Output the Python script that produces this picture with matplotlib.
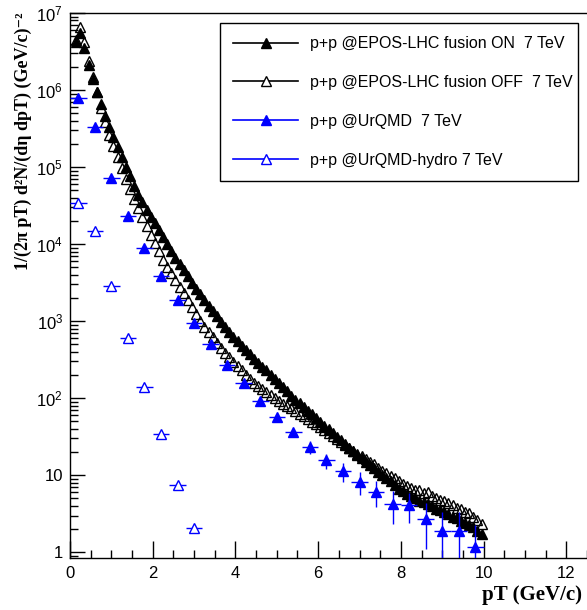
import numpy as np
import matplotlib
matplotlib.use("Agg")
import matplotlib.pyplot as plt
from matplotlib.ticker import LogLocator, FuncFormatter, MultipleLocator, NullFormatter, FixedLocator
from matplotlib.lines import Line2D

plt.rcParams['font.family'] = ['Liberation Sans', 'DejaVu Sans']
plt.rcParams['mathtext.fontset'] = 'custom'
plt.rcParams['mathtext.rm'] = 'Liberation Sans'
plt.rcParams['mathtext.it'] = 'Liberation Sans:italic'
plt.rcParams['mathtext.bf'] = 'Liberation Sans:bold'

# EPOS-LHC bins: 0.1 GeV/c wide, centres 0.15 ... 9.95
pt_epos = np.round(np.arange(0.15, 10.0, 0.1), 2)

# fusion ON (filled black)
epos_on = [4.2e6, 5.5e6, 3.5e6, 2.1e6, 1.4e6, 9.3e5, 6.5e5, 4.6e5, 3.3e5, 2.45e5,
           1.8e5, 1.35e5, 1.0e5, 7.6e4, 5.75e4, 4.4e4, 3.5e4, 2.75e4, 2.24e4, 1.86e4,
           1.51e4, 1.23e4, 1.0e4, 8.1e3, 6.6e3, 5.5e3, 4.6e3, 3.8e3, 3.16e3, 2.63e3,
           2.24e3, 1.86e3, 1.58e3, 1.35e3, 1.15e3, 977, 832, 724, 631, 550,
           479, 417, 372, 324, 288, 257, 229, 200, 178, 158,
           138, 123, 107, 95, 87, 78, 69, 62, 55, 49,
           43.6, 39.8, 35.5, 31.6, 28.8, 25.7, 22.9, 20.4, 18.2, 16.6,
           14.8, 13.5, 12.3, 11.0, 10.0, 9.1, 8.3, 7.4, 6.6, 6.2,
           5.75, 5.4, 5.0, 4.7, 4.45, 4.2, 4.0, 3.7, 3.5, 3.3,
           3.1, 2.9, 2.75, 2.57, 2.4, 2.24, 2.1, 1.9, 1.74]

# fusion OFF (open black)
epos_off = [4.4e6, 6.6e6, 4.2e6, 2.4e6, 1.48e6, 9.3e5, 5.9e5, 3.9e5, 2.63e5, 1.86e5,
            1.35e5, 9.8e4, 7.1e4, 5.25e4, 3.9e4, 2.95e4, 2.24e4, 1.7e4, 1.32e4, 1.02e4,
            8.1e3, 6.3e3, 5.1e3, 4.2e3, 3.4e3, 2.75e3, 2.3e3, 1.86e3, 1.51e3, 1.23e3,
            1.0e3, 851, 724, 617, 525, 447, 389, 339, 295, 263,
            229, 200, 178, 158, 145, 132, 120, 110, 100, 93,
            85, 79, 74, 68, 63, 58, 54, 49, 46, 42,
            39, 35.5, 32.4, 29.5, 26.9, 24.5, 22.9, 20.9, 19.1, 17.8,
            16.2, 14.8, 13.8, 12.6, 11.5, 10.7, 9.8, 9.1, 8.3, 7.8,
            7.2, 6.9, 6.5, 6.4, 5.9, 6.1, 5.4, 5.1, 4.8, 4.6,
            4.3, 4.1, 3.8, 3.6, 3.3, 3.2, 2.9, 2.6, 2.3]

# UrQMD (filled blue), 0.4 GeV/c bins
pt_urqmd = [0.2, 0.6, 1.0, 1.4, 1.8, 2.2, 2.6, 3.0, 3.4, 3.8, 4.2, 4.6, 5.0,
            5.4, 5.8, 6.2, 6.6, 7.0, 7.4, 7.8, 8.2, 8.6, 9.0, 9.4, 9.8]
urqmd = [8.0e5, 3.3e5, 7.3e4, 2.35e4, 8.9e3, 3.9e3, 1.9e3, 960, 500, 267, 157, 92, 57,
         36, 23.5, 15.6, 11.3, 8.25, 6.15, 4.25, 4.1, 2.7, 1.87, 1.87, 1.17]
urqmd_err = [900, 600, 270, 150, 95, 62, 44, 31, 22, 16, 6, 2.0, 2.5,
             3.0, 4.7, 3.4, 3.1, 2.75, 2.25, 1.95, 1.7, 1.6, 1.46, 1.46, 1.07]

# UrQMD-hydro (open blue)
pt_hydro = [0.2, 0.6, 1.0, 1.4, 1.8, 2.2, 2.6, 3.0]
hydro = [3.4e4, 1.5e4, 2.9e3, 610, 139, 34.6, 7.4, 2.09]

labels = ['p+p @EPOS-LHC fusion ON  7 TeV', 'p+p @EPOS-LHC fusion OFF  7 TeV',
          'p+p @UrQMD  7 TeV', 'p+p @UrQMD-hydro 7 TeV']

fig = plt.figure(figsize=(5.87, 6.10), dpi=100)
ax = fig.add_axes([70 / 587, 52 / 610, 517 / 587, 545 / 610])

ms = 6.8
ax.plot(pt_epos, epos_on, ls='none', marker='^', ms=ms, color='black', zorder=3)
ax.plot(pt_epos, epos_off, ls='none', marker='^', ms=ms, mfc='none', mec='black', mew=1.0, zorder=4)
ax.errorbar(pt_urqmd, urqmd, xerr=0.2, yerr=urqmd_err, fmt='^', color='blue', ms=ms,
            elinewidth=1, capsize=0, zorder=5)
ax.errorbar(pt_hydro, hydro, xerr=0.2, fmt='^', color='blue', mfc='white', mec='blue', ms=ms,
            mew=1, elinewidth=1, capsize=0, zorder=5)

ax.set_yscale('log')
ax.set_xlim(0, 12.5)
ax.set_ylim(0.843, 1e7)


def fmt(v, pos):
    e = int(round(np.log10(v)))
    if e == 0:
        return '1'
    if e == 1:
        return '10'
    return r'$10^{%d}$' % e


ax.xaxis.set_major_locator(MultipleLocator(2))
ax.xaxis.set_minor_locator(MultipleLocator(0.5))
ax.yaxis.set_major_locator(FixedLocator([1, 10, 1e2, 1e3, 1e4, 1e5, 1e6, 1e7]))
ax.yaxis.set_minor_locator(LogLocator(base=10, subs=np.arange(2, 10), numticks=20))
ax.yaxis.set_major_formatter(FuncFormatter(fmt))
ax.yaxis.set_minor_formatter(NullFormatter())

ax.tick_params(which='both', direction='in', top=False, right=False, width=1)
ax.tick_params(axis='x', which='major', length=12, labelsize=12, pad=6)
ax.tick_params(axis='x', which='minor', length=6)
ax.tick_params(axis='y', which='major', length=11, labelsize=12, pad=5)
ax.tick_params(axis='y', which='minor', length=5.5)
ax.spines['right'].set_visible(False)
for s in ['left', 'bottom', 'top']:
    ax.spines[s].set_linewidth(1.0)

ax.set_ylabel('1/(2π pT) d²N/(dη dpT) (GeV/c)⁻²', fontsize=13, fontweight='bold',
              family=['Liberation Serif', 'DejaVu Serif'], loc='top')
ax.yaxis.set_label_coords(-0.0735, 1.0)
ax.set_xlabel('pT (GeV/c)', fontsize=15, fontweight='bold',
              family=['Liberation Serif', 'DejaVu Serif'], loc='right')
ax.xaxis.set_label_coords(0.990, -0.0495)

handles = [
    Line2D([], [], color='black', lw=1.2, marker='^', ms=ms),
    Line2D([], [], color='black', lw=1.2, marker='^', ms=ms, mfc='white', mew=1.0),
    Line2D([], [], color='blue', lw=1.2, marker='^', ms=ms),
    Line2D([], [], color='blue', lw=1.2, marker='^', ms=ms, mfc='white', mew=1),
]
leg = ax.legend(handles, labels, loc='upper left',
                bbox_to_anchor=(220 / 587, 1 - 180 / 610, 358 / 587, 157 / 610),
                bbox_transform=fig.transFigure, mode='expand', borderaxespad=0,
                fontsize=11.5, handlelength=4.07, handletextpad=0.75, labelspacing=1.5,
                borderpad=0.82, fancybox=False, edgecolor='black', framealpha=1)
leg.get_frame().set_linewidth(1.0)

fig.savefig('out.png', dpi=100)
